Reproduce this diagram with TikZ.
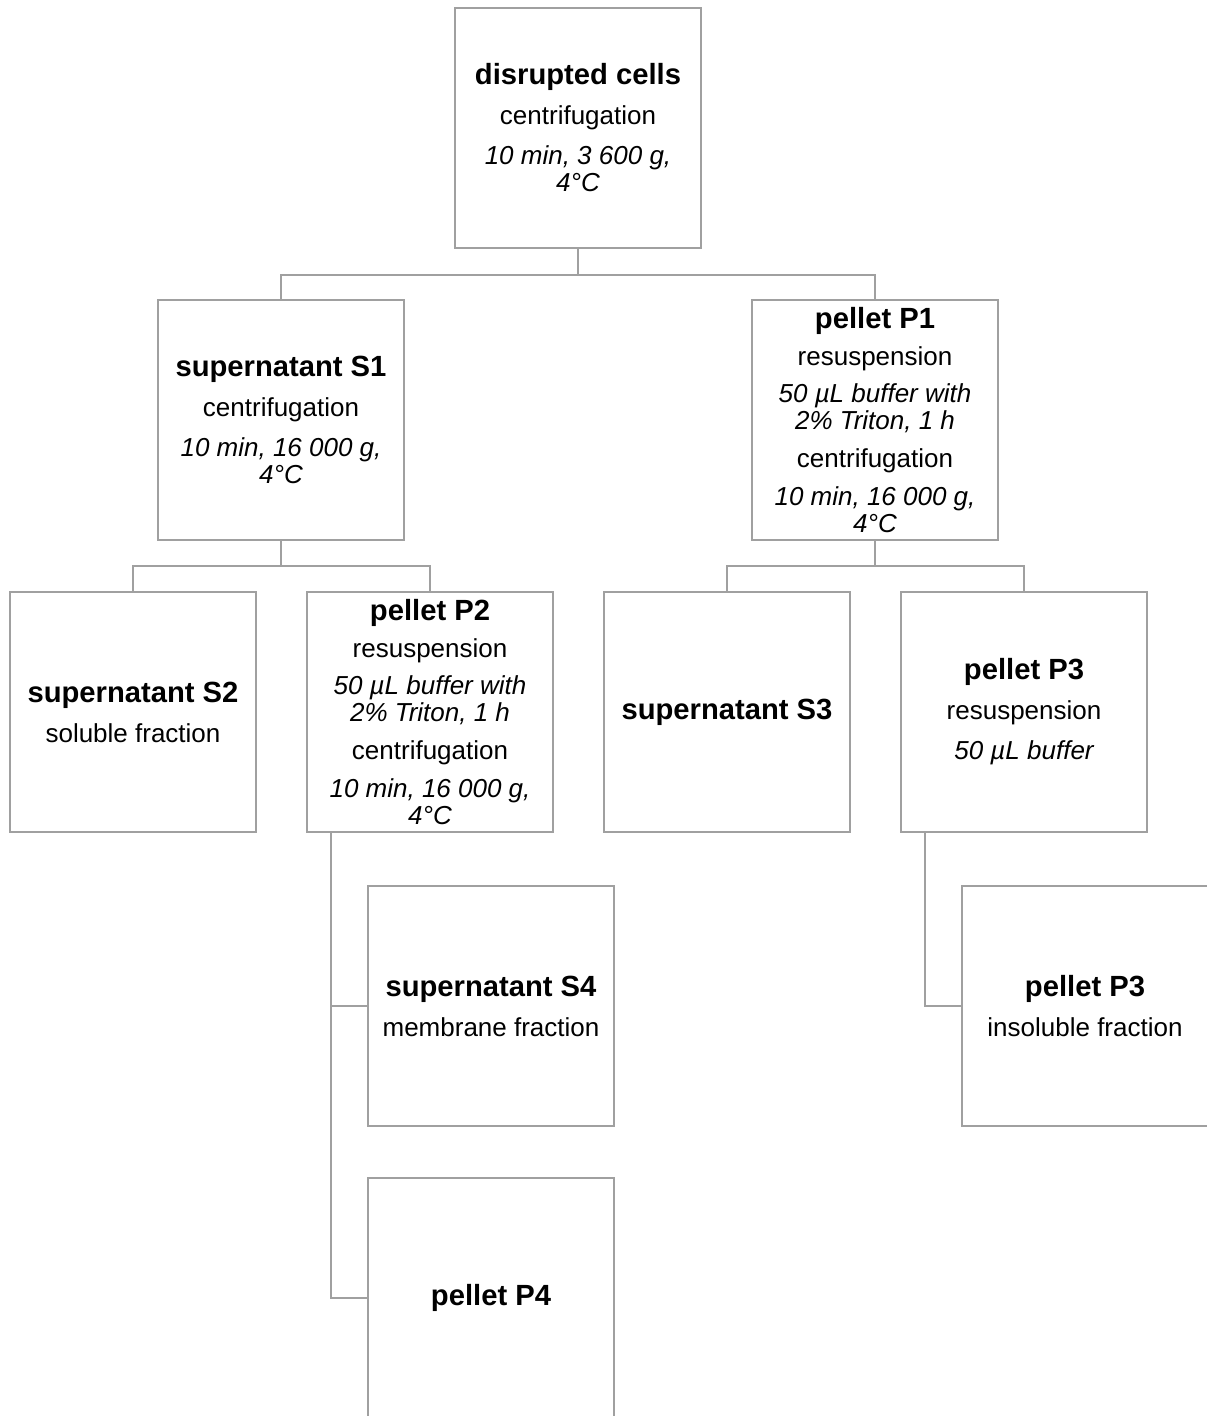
\documentclass[tikz,border=0pt]{standalone}
\usepackage{fontspec}
\setmainfont{Liberation Sans}
\usepackage{tikz}
\usetikzlibrary{positioning}
\definecolor{boxgray}{RGB}{160,160,160}
\newcommand{\stepname}[1]{{\fontsize{14.6}{13.5}\selectfont\bfseries #1}}
\newcommand{\cond}[1]{{\itshape #1}}

\begin{document}
\begin{tikzpicture}[x=0.5pt,y=0.5pt,yscale=-1,xscale=1]
  \tikzstyle{fraction} = [draw=boxgray,line width=1.1pt,minimum width=123pt,minimum height=120pt,align=center,inner sep=0pt,font=\fontsize{13}{13.5}\selectfont]
  \tikzstyle{link} = [draw=boxgray,line width=1.1pt]
  \useasboundingbox (0,0) rectangle (1206,1416);
  %Draw the first centrifugation
  \node[fraction] (cells) at (578,128) {\stepname{disrupted cells}\\[6.5pt] centrifugation\\[6.5pt] \cond{10 min, 3 600 g,}\\ \cond{4°C}};
  %Draw the second row
  \node[fraction] (s1) at (281,420) {\stepname{supernatant S1}\\[6.5pt] centrifugation\\[6.5pt] \cond{10 min, 16 000 g,}\\ \cond{4°C}};
  \node[fraction] (p1) at (875,420) {\stepname{pellet P1}\\[5pt] resuspension\\[5pt] \cond{50 µL buffer with}\\ \cond{2\% Triton, 1 h}\\[5.5pt] centrifugation\\[5.5pt] \cond{10 min, 16 000 g,}\\ \cond{4°C}};
  %Draw the third row
  \node[fraction] (s2) at (133,712) {\stepname{supernatant S2}\\[6.5pt] soluble fraction};
  \node[fraction] (p2) at (430,712) {\stepname{pellet P2}\\[5pt] resuspension\\[5pt] \cond{50 µL buffer with}\\ \cond{2\% Triton, 1 h}\\[5.5pt] centrifugation\\[5.5pt] \cond{10 min, 16 000 g,}\\ \cond{4°C}};
  \node[fraction] (s3) at (727,712) {\stepname{supernatant S3}};
  \node[fraction] (p3) at (1024,712) {\stepname{pellet P3}\\[6.5pt] resuspension\\[6.5pt] \cond{50 µL buffer}};
  %Draw the last fractions
  \node[fraction] (s4) at (491,1006) {\stepname{supernatant S4}\\[6.5pt] membrane fraction};
  \node[fraction] (p3b) at (1085,1006) {\stepname{pellet P3}\\[6.5pt] insoluble fraction};
  \node[fraction] (p4) at (491,1298) {\stepname{pellet P4}};
  %Draw the connectors
  \draw[link] (cells.south) -- ++(0,26) -| (s1.north);
  \draw[link] (cells.south) -- ++(0,26) -| (p1.north);
  \draw[link] (s1.south) -- ++(0,25) -| (s2.north);
  \draw[link] (s1.south) -- ++(0,25) -| (p2.north);
  \draw[link] (p1.south) -- ++(0,25) -| (s3.north);
  \draw[link] (p1.south) -- ++(0,25) -| (p3.north);
  \draw[link] ([xshift=12.5pt]p2.south west) |- (s4.west);
  \draw[link] ([xshift=12.5pt]p2.south west) |- (p4.west);
  \draw[link] ([xshift=12.5pt]p3.south west) |- (p3b.west);
\end{tikzpicture}
\end{document}
